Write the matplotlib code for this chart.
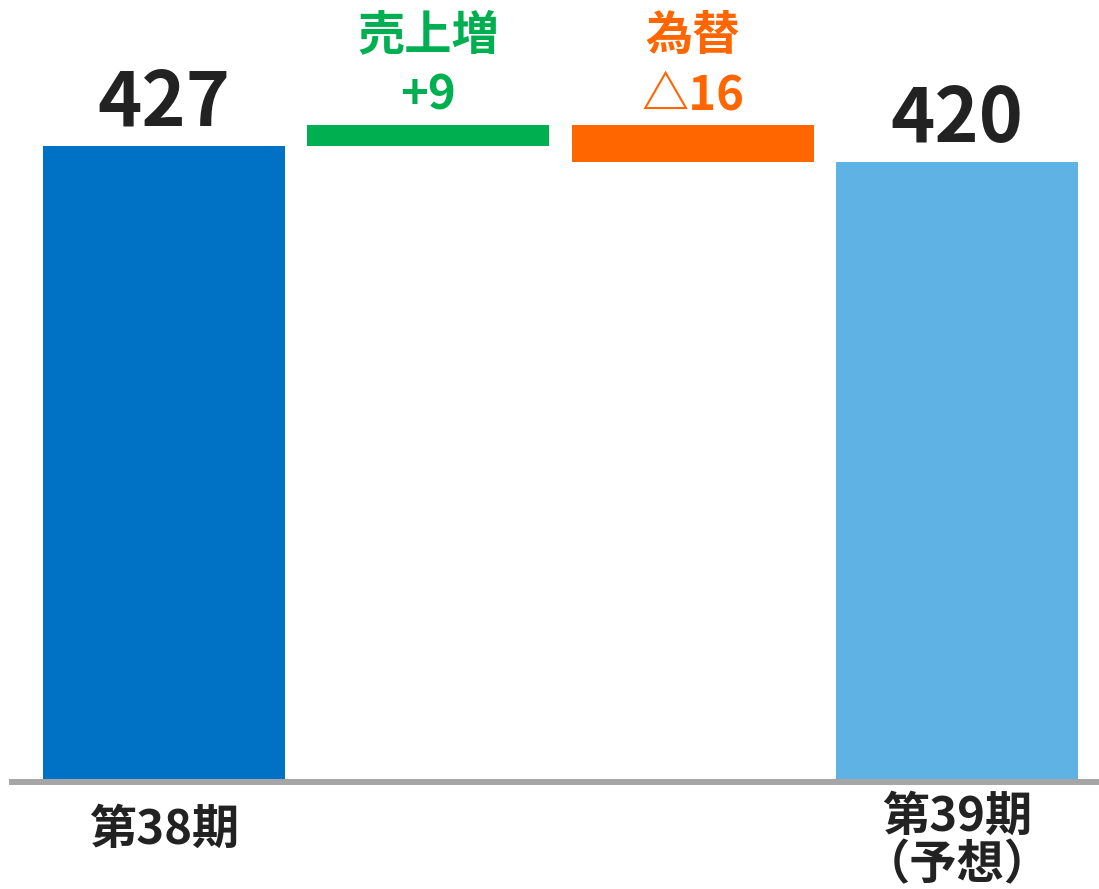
import matplotlib
matplotlib.use("Agg")
import matplotlib.pyplot as plt

plt.rcParams['font.family'] = ['Noto Sans CJK JP', 'DejaVu Sans']

# data
categories = ['第38期', '売上増', '為替', '第39期\n（予想）']
start_value = 427
deltas = [9, -16]
end_value = 420
delta_names = ['売上増', '為替']
delta_labels = ['+9', '△16']
colors = ['#0072C6', '#00B050', '#FF6600', '#5EB3E4']

fig = plt.figure(figsize=(10.99, 8.89), dpi=100)
ax = fig.add_axes([9 / 1099, 107 / 889, 1 - 9 / 1099, 782 / 889])

# waterfall bars
x = [0, 1, 2, 3]
width = 0.916
ax.bar(x[0], start_value, width=width, color=colors[0], zorder=2)
running = start_value
for i, d in enumerate(deltas):
    lo = min(running, running + d)
    ax.bar(x[i + 1], abs(d), bottom=lo, width=width, color=colors[i + 1], zorder=2)
    running += d
ax.bar(x[3], end_value, width=width, color=colors[3], zorder=2)

ax.set_xlim(-0.586, 3.537)
ax.set_ylim(156.7, 488.9)
ax.axis('off')

# baseline
ax.axhline(156.7, color='#A6A6A6', linewidth=4.3, zorder=3, clip_on=False,
           solid_capstyle='butt')

dark = '#222222'
px = 0.72  # points per pixel

# totals
ax.annotate(str(start_value), (x[0], start_value), xytext=(0, 19 * px),
            textcoords='offset points', ha='center', va='baseline',
            fontsize=54, fontweight='bold', color=dark)
ax.annotate(str(end_value), (x[3], end_value), xytext=(0, 20 * px),
            textcoords='offset points', ha='center', va='baseline',
            fontsize=54, fontweight='bold', color=dark)

# delta labels
running = start_value
for i, d in enumerate(deltas):
    top = max(running, running + d)
    c = colors[i + 1]
    ax.annotate(delta_labels[i], (x[i + 1], top), xytext=(0, 15 * px),
                textcoords='offset points', ha='center', va='baseline',
                fontsize=34, fontweight='bold', color=c)
    ax.annotate(delta_names[i], (x[i + 1], top), xytext=(0, 75 * px),
                textcoords='offset points', ha='center', va='baseline',
                fontsize=34, fontweight='bold', color=c)
    running += d

# category labels
tr = ax.get_xaxis_transform()
ax.annotate(categories[0], (x[0], 0), xycoords=tr, xytext=(0, -62 * px),
            textcoords='offset points', ha='center', va='baseline',
            fontsize=34, fontweight='bold', color=dark, annotation_clip=False)
ax.annotate(categories[3], (x[3], 0), xycoords=tr, xytext=(0, -11 * px),
            textcoords='offset points', ha='center', va='top',
            multialignment='center', linespacing=1.0,
            fontsize=34, fontweight='bold', color=dark, annotation_clip=False)

fig.savefig('out.png', dpi=100)
